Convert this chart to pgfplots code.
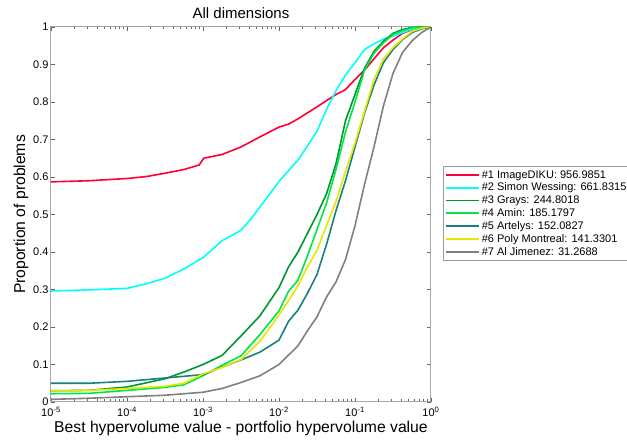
\documentclass[border=0pt]{standalone}
\usepackage{pgfplots}
\pgfplotsset{compat=1.18}
\usepackage{fontspec}
\setmainfont{Liberation Sans}
\definecolor{cRed}{RGB}{255,0,51}
\definecolor{cCyan}{RGB}{0,255,255}
\definecolor{cDGreen}{RGB}{0,150,50}
\definecolor{cLGreen}{RGB}{0,230,70}
\definecolor{cTeal}{RGB}{25,128,128}
\definecolor{cYellow}{RGB}{230,230,0}
\definecolor{cGray}{RGB}{128,128,128}
\begin{document}
\begin{tikzpicture}
\useasboundingbox (-51pt,-41pt) rectangle (576pt,402pt);
\begin{axis}[
  at={(0pt,0pt)}, anchor=south west,
  scale only axis, width=380pt, height=375pt,
  xmode=log, xmin=1e-5, xmax=1, ymin=0, ymax=1,
  xtick={1e-5,1e-4,1e-3,1e-2,1e-1,1},
  xticklabels={10\textsuperscript{-5},10\textsuperscript{-4},10\textsuperscript{-3},10\textsuperscript{-2},10\textsuperscript{-1},10\textsuperscript{0}},
  ytick={0,0.1,0.2,0.3,0.4,0.5,0.6,0.7,0.8,0.9,1},
  yticklabels={0,0.1,0.2,0.3,0.4,0.5,0.6,0.7,0.8,0.9,1},
  tick align=inside, tick pos=both,
  major tick length=4pt, minor tick length=2.5pt,
  axis line style={gray!70, line width=1pt},
  every tick/.style={gray!80!black, line width=0.5pt},
  tick label style={font=\fontsize{11}{13}\selectfont},
  /pgf/number format/assume math mode=true,
  xticklabel style={yshift=-2pt},
  yticklabel style={xshift=1pt},
  title={All dimensions},
  title style={font=\fontsize{15}{17}\selectfont, yshift=-1pt},
  xlabel={Best hypervolume value - portfolio hypervolume value},
  ylabel={Proportion of problems},
  label style={font=\fontsize{15.7}{18}\selectfont},
  xlabel style={yshift=3pt},
  ylabel style={yshift=-2pt},
  legend cell align=left,
  legend style={at={(1.031,0.629)}, anchor=north west, draw=gray!80, line width=0.6pt,
    font=\fontsize{11}{12.5}\selectfont, inner sep=2pt, row sep=-0.6pt},
  legend image code/.code={\draw[#1,line width=1.8pt] (0pt,0pt) -- (33pt,0pt);},
  every axis plot/.append style={line width=1.6pt},
]
\addplot[cRed] coordinates {(1e-5,0.587) (3.162e-5,0.59) (1e-4,0.596) (1.778e-4,0.601) (3.162e-4,0.61) (5.623e-4,0.62) (8.9e-4,0.632) (1.02e-3,0.65) (1.778e-3,0.66) (3.162e-3,0.68) (5.623e-3,0.707) (1e-2,0.733) (1.334e-2,0.741) (1.778e-2,0.755) (3.162e-2,0.787) (5.623e-2,0.82) (7.499e-2,0.833) (0.1,0.86) (0.1334,0.885) (0.1778,0.915) (0.2371,0.945) (0.3162,0.965) (0.4217,0.983) (0.5623,0.993) (0.7499,0.998) (1,1)};
\addlegendentry{\#1 ImageDIKU: 956.9851}
\addplot[cCyan] coordinates {(1e-5,0.296) (3.162e-5,0.299) (1e-4,0.303) (1.778e-4,0.315) (3.162e-4,0.33) (5.623e-4,0.355) (1e-3,0.385) (1.778e-3,0.43) (3.162e-3,0.458) (4.217e-3,0.487) (5.623e-3,0.52) (1e-2,0.588) (1.334e-2,0.617) (1.778e-2,0.645) (2.371e-2,0.683) (3.162e-2,0.722) (4.217e-2,0.78) (5.623e-2,0.83) (7.499e-2,0.872) (0.1,0.905) (0.1334,0.94) (0.1778,0.955) (0.2371,0.968) (0.3162,0.975) (0.4217,0.985) (0.5623,0.994) (1,1)};
\addlegendentry{\#2 Simon Wessing: 661.8315}
\addplot[cDGreen] coordinates {(1e-5,0.03) (3.162e-5,0.031) (1e-4,0.04) (3.162e-4,0.062) (5.623e-4,0.08) (1e-3,0.1) (1.778e-3,0.124) (3.162e-3,0.176) (5.623e-3,0.23) (1e-2,0.305) (1.334e-2,0.36) (1.778e-2,0.40) (2.371e-2,0.45) (3.162e-2,0.50) (4.217e-2,0.555) (5.623e-2,0.635) (7.499e-2,0.75) (0.1,0.82) (0.1334,0.89) (0.1778,0.935) (0.2371,0.962) (0.3162,0.983) (0.4217,0.993) (0.5623,0.999) (1,1)};
\addlegendentry{\#3 Grays: 244.8018}
\addplot[cLGreen] coordinates {(1e-5,0.022) (3.162e-5,0.023) (1e-4,0.031) (3.162e-4,0.039) (5.623e-4,0.046) (1e-3,0.07) (1.778e-3,0.098) (3.162e-3,0.123) (5.623e-3,0.18) (1e-2,0.243) (1.334e-2,0.295) (1.778e-2,0.325) (2.371e-2,0.39) (3.162e-2,0.46) (4.217e-2,0.53) (5.623e-2,0.62) (7.499e-2,0.72) (0.1,0.80) (0.1334,0.885) (0.1778,0.93) (0.2371,0.958) (0.3162,0.98) (0.4217,0.99) (0.5623,0.998) (1,1)};
\addlegendentry{\#4 Amin: 185.1797}
\addplot[cTeal] coordinates {(1e-5,0.05) (3.162e-5,0.05) (1e-4,0.055) (3.162e-4,0.064) (1e-3,0.073) (1.778e-3,0.093) (3.162e-3,0.112) (5.623e-3,0.133) (1e-2,0.165) (1.334e-2,0.215) (1.778e-2,0.245) (2.371e-2,0.29) (3.162e-2,0.34) (4.217e-2,0.42) (5.623e-2,0.51) (7.499e-2,0.59) (0.1,0.68) (0.1334,0.77) (0.1778,0.845) (0.2371,0.905) (0.3162,0.94) (0.4217,0.966) (0.5623,0.985) (0.7499,0.995) (1,1)};
\addlegendentry{\#5 Artelys: 152.0827}
\addplot[cYellow] coordinates {(1e-5,0.03) (3.162e-5,0.031) (1e-4,0.036) (3.162e-4,0.042) (5.623e-4,0.05) (1e-3,0.075) (1.778e-3,0.092) (3.162e-3,0.113) (5.623e-3,0.162) (1e-2,0.232) (1.334e-2,0.27) (1.778e-2,0.31) (2.371e-2,0.36) (3.162e-2,0.405) (4.217e-2,0.47) (5.623e-2,0.535) (7.499e-2,0.615) (0.1,0.69) (0.1334,0.775) (0.1778,0.86) (0.2371,0.915) (0.3162,0.945) (0.4217,0.968) (0.5623,0.988) (0.7499,0.997) (1,1)};
\addlegendentry{\#6 Poly Montreal: 141.3301}
\addplot[cGray] coordinates {(1e-5,0.007) (3.162e-5,0.01) (1e-4,0.014) (3.162e-4,0.018) (1e-3,0.026) (1.778e-3,0.036) (3.162e-3,0.052) (5.623e-3,0.07) (1e-2,0.1) (1.334e-2,0.125) (1.778e-2,0.15) (2.371e-2,0.19) (3.162e-2,0.227) (4.217e-2,0.28) (5.623e-2,0.32) (7.499e-2,0.38) (0.1,0.47) (0.1334,0.58) (0.1778,0.68) (0.2371,0.79) (0.3162,0.876) (0.4217,0.932) (0.5623,0.963) (0.7499,0.985) (1,1)};
\addlegendentry{\#7 Al Jimenez: 31.2688}
\end{axis}
\end{tikzpicture}
\end{document}
